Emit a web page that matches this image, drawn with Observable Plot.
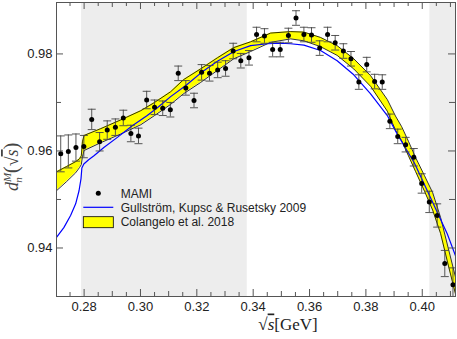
<!DOCTYPE html>
<html><head><meta charset="utf-8">
<script src="https://cdn.jsdelivr.net/npm/d3@7"></script>
<script src="https://cdn.jsdelivr.net/npm/@observablehq/plot@0.6"></script>
<style>body{margin:0;background:#fff;} svg{display:block}</style>
</head><body><div id="chart"></div>
<script>
// MAMI data
const sqrtS = [0.2717,0.2744,0.2771,0.2799,0.2827,0.2855,0.2882,0.2911,0.2939,0.2966,0.2993,0.3022,0.3050,0.3079,0.3106,0.3134,0.3161,0.3190,0.3217,0.3245,0.3274,0.3302,0.3329,0.3356,0.3385,0.3412,0.3440,0.3469,0.3496,0.3525,0.3552,0.3580,0.3607,0.3636,0.3664,0.3691,0.3720,0.3747,0.3775,0.3803,0.3831,0.3858,0.3885,0.3913,0.3941,0.3970,0.3998,0.4025,0.4053,0.4080,0.4109];
const dnM = [0.9594,0.9599,0.9607,0.9609,0.9665,0.9619,0.9643,0.9649,0.9668,0.9636,0.9631,0.9705,0.9690,0.9688,0.9685,0.9760,0.9730,0.9704,0.9762,0.9760,0.9767,0.9770,0.9806,0.9786,0.9792,0.9840,0.9837,0.9809,0.9809,0.9838,0.9874,0.9840,0.9839,0.9812,0.9840,0.9823,0.9806,0.9790,0.9742,0.9778,0.9743,0.9742,0.9661,0.9630,0.9613,0.9587,0.9533,0.9495,0.9467,0.9368,0.9324];
const dnMErr = [0.0037,0.0034,0.0028,0.0023,0.0021,0.0019,0.0019,0.0017,0.0016,0.0017,0.0016,0.0018,0.0015,0.0015,0.0015,0.0015,0.0015,0.0015,0.0016,0.0016,0.0016,0.0016,0.0016,0.0015,0.0015,0.0015,0.0015,0.0015,0.0015,0.0015,0.0015,0.0015,0.0015,0.0015,0.0015,0.0015,0.0015,0.0015,0.0015,0.0015,0.0015,0.0015,0.0015,0.0015,0.0015,0.0018,0.0020,0.0022,0.0024,0.0027,0.0035];

// Gullström, Kupsc & Rusetsky 2009
const gkrX = [0.2702,0.2728,0.2752,0.2770,0.2782,0.2789,0.2792,0.2799,0.2816,0.2835,0.2870,0.2918,0.2971,0.3024,0.3060,0.3107,0.3161,0.3217,0.3273,0.3332,0.3391,0.3450,0.3497,0.3533,0.3580,0.3639,0.3698,0.3757,0.3816,0.3876,0.3911,0.3973,0.4029,0.4089,0.4118];
const gkrY = [0.9422,0.9442,0.9467,0.9491,0.9518,0.9543,0.9565,0.9573,0.9582,0.9590,0.9607,0.9628,0.9652,0.9673,0.9689,0.9712,0.9735,0.9762,0.9785,0.9805,0.9817,0.9821,0.9822,0.9821,0.9818,0.9807,0.9786,0.9757,0.9718,0.9673,0.9635,0.9574,0.9504,0.9429,0.9384];

// Colangelo et al. 2018 band
const colX  = [0.2702,0.2738,0.2770,0.2784,0.2790,0.2794,0.2800,0.2859,0.2930,0.3001,0.3050,0.3107,0.3153,0.3213,0.3273,0.3331,0.3391,0.3462,0.3533,0.3580,0.3639,0.3698,0.3757,0.3817,0.3876,0.3905,0.3927,0.3951,0.3976,0.4008,0.4037,0.4065,0.4093,0.4118];
const colHi = [0.9557,0.9568,0.9578,0.9584,0.9590,0.9619,0.9632,0.9646,0.9664,0.9683,0.9700,0.9722,0.9747,0.9769,0.9792,0.9813,0.9825,0.9843,0.9846,0.9845,0.9834,0.9817,0.9790,0.9755,0.9706,0.9672,0.9650,0.9620,0.9587,0.9549,0.9514,0.9463,0.9398,0.9340];
const colLo = [0.9518,0.9537,0.9555,0.9566,0.9572,0.9588,0.9601,0.9617,0.9635,0.9654,0.9673,0.9696,0.9718,0.9741,0.9766,0.9790,0.9805,0.9824,0.9831,0.9827,0.9815,0.9797,0.9769,0.9733,0.9682,0.9643,0.9621,0.9590,0.9558,0.9517,0.9478,0.9430,0.9363,0.9305];

// shaded ranges
const shadeFrom = [0.2791, 0.4027];
const shadeTo   = [0.3379, 0.4118];

// ticks
const xLabelTicks = [0.28,0.30,0.32,0.34,0.36,0.38,0.40];
const xMidTicks = [0.29,0.31,0.33,0.35,0.37,0.39,0.41];
const xMinorTicks = [0.275,0.285,0.295,0.305,0.315,0.325,0.335,0.345,0.355,0.365,0.375,0.385,0.395,0.405];
const yLabelTicks = [0.94,0.96,0.98];
const yMinorTicks = [0.95,0.97];

const mami = sqrtS.map((x,i)=>({x, y:dnM[i], e:dnMErr[i]}));
const gkr = gkrX.map((x,i)=>({x, y:gkrY[i]}));
const col = colX.map((x,i)=>({x, lo:colLo[i], hi:colHi[i]}));
const shade = shadeFrom.map((a,i)=>({x1:a, x2:shadeTo[i]}));

const W=457,H=339,mL=56,mR=2,mT=2,mB=43;
const iw=W-mL-mR, ih=H-mT-mB;
const capSymbol = {draw(ctx, size){ const r=Math.sqrt(size/Math.PI); ctx.moveTo(-r,0); ctx.lineTo(r,0);} };
const tickCol = "#555";

const chart = Plot.plot({
  width:W, height:H, marginLeft:mL, marginRight:mR, marginTop:mT, marginBottom:mB,
  style:{fontFamily:"'Liberation Sans', Arial, sans-serif", fontSize:"13px", color:"#222", background:"#fff"},
  x:{domain:[0.2702,0.4118]},
  y:{domain:[0.93,0.9906]},
  marks:[
    Plot.rect(shade,{x1:"x1",x2:"x2",fill:"#ededed"}),
    Plot.areaY(col,{x:"x",y1:"lo",y2:"hi",fill:"#ffff00",clip:true}),
    Plot.line(col,{x:"x",y:"lo",stroke:"#000",strokeWidth:0.8,clip:true}),
    Plot.line(col,{x:"x",y:"hi",stroke:"#000",strokeWidth:0.8,clip:true}),
    Plot.line(gkr,{x:"x",y:"y",stroke:"#0000ff",strokeWidth:1.2,clip:true}),
    Plot.ruleX(mami,{x:"x",y1:d=>d.y-d.e,y2:d=>d.y+d.e,stroke:"#444",strokeWidth:0.9,clip:true}),
    Plot.dot(mami,{x:"x",y:d=>d.y-d.e,symbol:capSymbol,r:4,stroke:"#444",strokeWidth:0.9,fill:"none",clip:true}),
    Plot.dot(mami,{x:"x",y:d=>d.y+d.e,symbol:capSymbol,r:4,stroke:"#444",strokeWidth:0.9,fill:"none",clip:true}),
    Plot.dot(mami,{x:"x",y:"y",r:2.5,fill:"#000",clip:true}),
    Plot.frame({stroke:tickCol}),
    Plot.tickX(xLabelTicks,{x:d=>d,insetTop:ih-7,stroke:tickCol}),
    Plot.tickX(xMidTicks,{x:d=>d,insetTop:ih-5,stroke:tickCol}),
    Plot.tickX(xMinorTicks,{x:d=>d,insetTop:ih-4,stroke:tickCol}),
    Plot.tickX(xLabelTicks,{x:d=>d,insetBottom:ih-7,stroke:tickCol}),
    Plot.tickX(xMidTicks,{x:d=>d,insetBottom:ih-5,stroke:tickCol}),
    Plot.tickX(xMinorTicks,{x:d=>d,insetBottom:ih-4,stroke:tickCol}),
    Plot.tickY(yLabelTicks,{y:d=>d,insetRight:iw-7,stroke:tickCol}),
    Plot.tickY(yMinorTicks,{y:d=>d,insetRight:iw-5,stroke:tickCol}),
    Plot.tickY(yLabelTicks,{y:d=>d,insetLeft:iw-7,stroke:tickCol}),
    Plot.tickY(yMinorTicks,{y:d=>d,insetLeft:iw-6,stroke:tickCol}),
    Plot.axisX(xLabelTicks,{tickSize:0,tickPadding:5,tickFormat:d3.format(".2f"),label:null}),
    Plot.axisY(yLabelTicks,{tickSize:0,tickPadding:4,tickFormat:d3.format(".2f"),label:null})
  ]
});
document.getElementById("chart").append(chart);

const svg = d3.select(chart);
// legend
const lg = svg.append("g").attr("font-family","'Liberation Sans', Arial, sans-serif").attr("font-size",12).attr("fill","#222").attr("text-anchor","start");
lg.append("circle").attr("cx",98.3).attr("cy",193.3).attr("r",2.5).attr("fill","#000");
lg.append("text").attr("x",120.7).attr("y",197.5).attr("text-anchor","start").text("MAMI");
lg.append("line").attr("x1",83.3).attr("x2",113.3).attr("y1",207.3).attr("y2",207.3).attr("stroke","#0000ff").attr("stroke-width",1.2);
lg.append("text").attr("x",120.7).attr("y",211.7).attr("text-anchor","start").text("Gullström, Kupsc & Rusetsky 2009");
lg.append("rect").attr("x",83.3).attr("y",216.7).attr("width",30).attr("height",11).attr("fill","#ffff00").attr("stroke","#000").attr("stroke-width",0.8);
lg.append("text").attr("x",120.7).attr("y",226).attr("text-anchor","start").text("Colangelo et al. 2018");

// x label
const xl = svg.append("text").attr("x",288).attr("y",329.5).attr("text-anchor","middle")
  .attr("font-family","'Liberation Serif', 'DejaVu Serif', serif").attr("font-size",17).attr("fill","#222");
xl.append("tspan").text("√");
xl.append("tspan").attr("font-style","italic").attr("text-decoration","overline").text("s");
xl.append("tspan").text("[GeV]");

// y label
const yl = svg.append("text").attr("transform","translate(18,166.7) rotate(-90)").attr("text-anchor","middle")
  .attr("font-family","'Liberation Serif', 'DejaVu Serif', serif").attr("font-size",18).attr("fill","#444");
yl.append("tspan").attr("font-style","italic").text("d");
yl.append("tspan").attr("font-style","italic").attr("font-size",11).attr("dy",-7).text("M");
yl.append("tspan").attr("font-style","italic").attr("font-size",11).attr("dx",-10).attr("dy",11).text("n");
yl.append("tspan").attr("font-size",21).attr("dx",4).attr("dy",-4).text("(");
yl.append("tspan").text("√");
yl.append("tspan").attr("font-style","italic").attr("text-decoration","overline").text("s");
yl.append("tspan").attr("font-size",21).text(")");
</script>
</body></html>
